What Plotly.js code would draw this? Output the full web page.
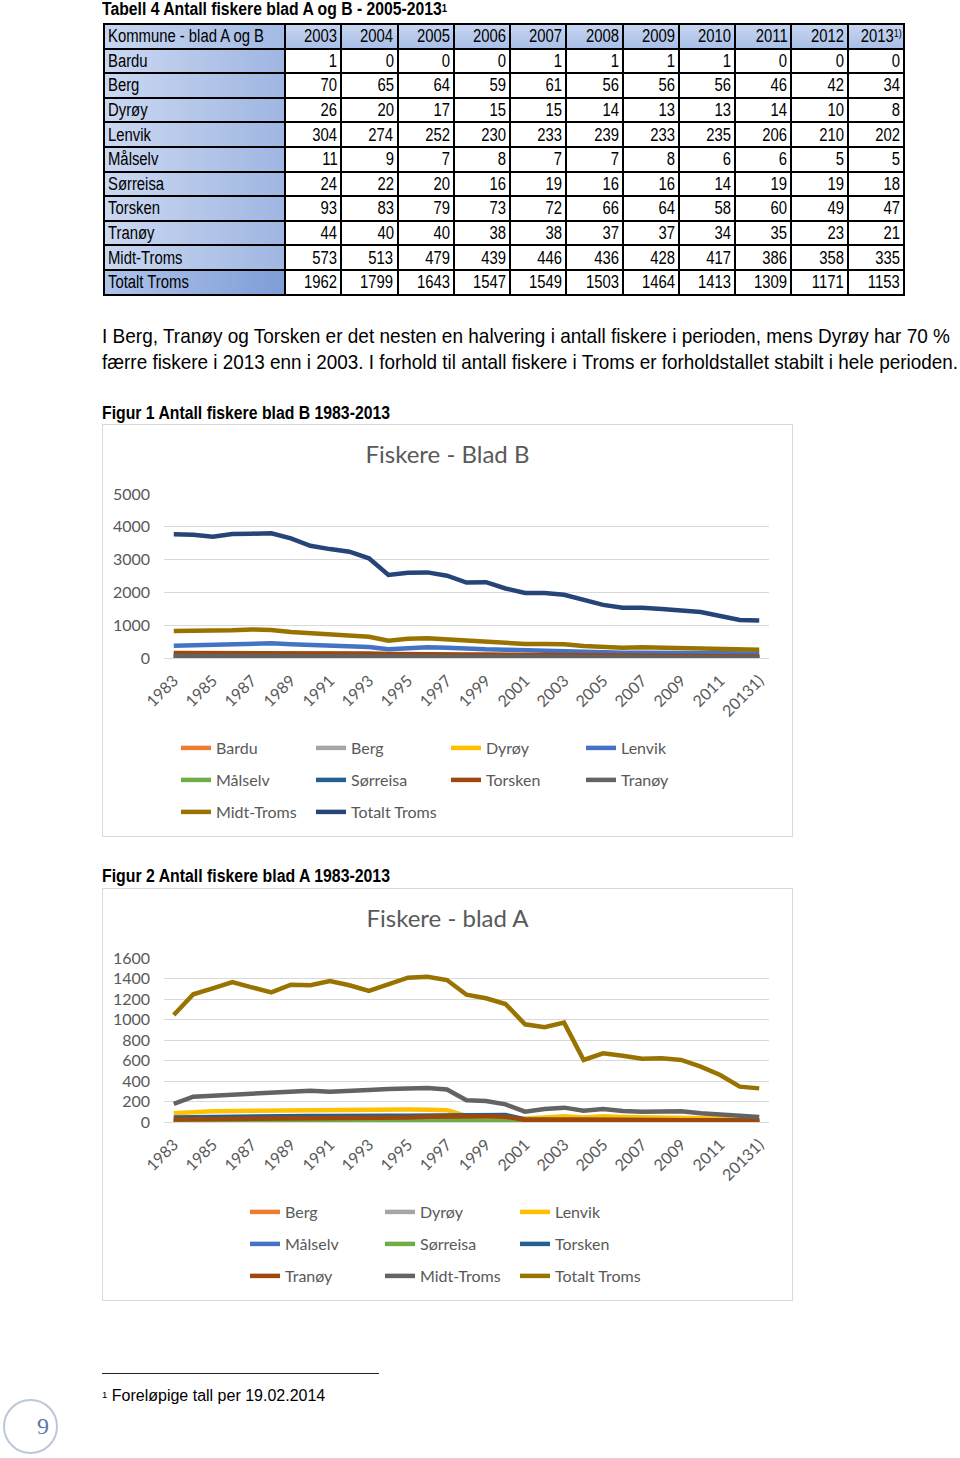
<!DOCTYPE html>
<html><head><meta charset="utf-8">
<script src="https://cdn.plot.ly/plotly-3.0.1.min.js"></script>
<style>
body{margin:0;width:960px;height:1458px;position:relative;background:#fff;overflow:hidden;color:#000;}
.nar{font-family:"Liberation Sans",Arial,sans-serif;}
.abs{position:absolute;white-space:nowrap;}
.sq{display:inline-block;white-space:nowrap;}
#ttitle{left:102px;top:0px;font-size:18px;font-weight:bold;line-height:18px;transform-origin:left center;}
#ttitle sup,#fn sup{font-size:60%;vertical-align:top;position:relative;top:-1px;}
#tbl{position:absolute;left:103px;top:23px;border-collapse:collapse;table-layout:fixed;width:800px;font-size:18px;}
#tbl td{border:2px solid #000;padding:0 3px;height:22.6px;line-height:20px;overflow:hidden;white-space:nowrap;}
#tbl td.num{text-align:right;background:#fff;}
#tbl td.num .sq{transform-origin:right center;}
#tbl td.name{text-align:left;background:linear-gradient(to right,#CBD8F1,#9FB6E2);}
#tbl td.name .sq{transform-origin:left center;}
#tbl td.tot{background:linear-gradient(to right,#AFC3EA,#7F9ED7);}
#tbl tr.hd td{background:linear-gradient(#C7D6F0,#A9BFE7);}
#tbl tr.hd td.name{background:linear-gradient(to right,#C7D6F0,#A3BAE4);}
#tbl sup{font-size:60%;vertical-align:top;position:relative;top:-3px;}
.para{left:102px;font-size:21px;line-height:26px;transform-origin:left center;}
.cap{left:102px;font-size:18px;font-weight:bold;line-height:22px;transform-origin:left center;}
.chart{position:absolute;width:691px;height:413px;}
.frame{position:absolute;width:691px;height:413px;box-sizing:border-box;border:1px solid #D9D9D9;pointer-events:none;}
#fnline{position:absolute;left:102px;top:1373px;width:277px;height:1px;background:#222;}
#fn{left:102px;top:1388px;font-family:"Liberation Sans",Arial,sans-serif;font-size:16px;line-height:16px;}
#pg{position:absolute;left:3px;top:1399px;width:55px;height:55px;box-sizing:border-box;border:2px solid #BAC8DA;border-radius:50%;}
#pgn{left:37px;top:1412px;font-family:"Liberation Serif","DejaVu Serif",serif;font-size:24px;color:#587AAE;line-height:28px;}
</style></head>
<body>
<div id="ttitle" class="abs nar">Tabell 4 Antall fiskere blad A og B - 2005-2013<sup>1</sup></div>
<table id="tbl" class="nar"></table>

<div id="p1" class="abs nar para" style="top:323px">I Berg, Tranøy og Torsken er det nesten en halvering i antall fiskere i perioden, mens Dyrøy har 70 %</div>
<div id="p2" class="abs nar para" style="top:349px">færre fiskere i 2013 enn i 2003. I forhold til antall fiskere i Troms er forholdstallet stabilt i hele perioden.</div>

<div id="cap1" class="abs nar cap" style="top:402px">Figur 1 Antall fiskere blad B 1983-2013</div>
<div id="chartB" class="chart" style="left:102px;top:424px"></div>
<div class="frame" style="left:102px;top:424px"></div>

<div id="cap2" class="abs nar cap" style="top:865px">Figur 2 Antall fiskere blad A 1983-2013</div>
<div id="chartA" class="chart" style="left:102px;top:888px"></div>
<div class="frame" style="left:102px;top:888px"></div>

<div id="fnline"></div>
<div id="fn" class="abs"><sup>1</sup> Foreløpige tall per 19.02.2014</div>
<div id="pg"></div>
<div id="pgn" class="abs">9</div>

<script>
// ---------- Table data ----------
const tableHeadLabel = 'Kommune - blad A og B';
const tableYears = ['2003','2004','2005','2006','2007','2008','2009','2010','2011','2012','2013'];
const tableYearNote = '1)';
const kommuner = ['Bardu','Berg','Dyrøy','Lenvik','Målselv','Sørreisa','Torsken','Tranøy','Midt-Troms','Totalt Troms'];
const tBardu    = [1,0,0,0,1,1,1,1,0,0,0];
const tBerg     = [70,65,64,59,61,56,56,56,46,42,34];
const tDyroy    = [26,20,17,15,15,14,13,13,14,10,8];
const tLenvik   = [304,274,252,230,233,239,233,235,206,210,202];
const tMalselv  = [11,9,7,8,7,7,8,6,6,5,5];
const tSorreisa = [24,22,20,16,19,16,16,14,19,19,18];
const tTorsken  = [93,83,79,73,72,66,64,58,60,49,47];
const tTranoy   = [44,40,40,38,38,37,37,34,35,23,21];
const tMidt     = [573,513,479,439,446,436,428,417,386,358,335];
const tTotal    = [1962,1799,1643,1547,1549,1503,1464,1413,1309,1171,1153];

// ---------- Chart data ----------
const years = ['1983','1984','1985','1986','1987','1988','1989','1990','1991','1992','1993','1994','1995','1996','1997','1998','1999','2000','2001','2002','2003','2004','2005','2006','2007','2008','2009','2010','2011','2012','20131)'];

// Blad B
const bBardu    = [2,2,2,2,2,2,2,1,1,1,1,1,1,1,1,1,1,1,1,1,1,1,0,0,0,1,1,1,0,0,0];
const bBerg     = [110,108,106,105,104,103,100,96,92,90,88,80,82,82,80,76,74,72,70,68,66,60,56,52,50,48,46,44,40,36,32];
const bDyroy    = [40,40,39,39,38,38,36,34,33,32,30,27,28,28,27,25,24,23,22,21,20,18,16,15,15,14,13,13,12,10,9];
const bLenvik   = [376,396,417,427,447,447,417,396,366,356,335,264,295,325,315,280,264,254,234,224,213,193,172,162,160,158,155,150,148,142,140];
const bMalselv  = [15,15,15,15,14,14,14,13,13,12,12,11,11,11,10,10,10,9,9,8,8,7,6,6,6,6,6,5,5,4,4];
const bSorreisa = [35,35,34,34,34,33,32,31,30,29,28,25,26,26,25,24,23,22,21,20,20,18,17,16,16,15,15,14,15,15,14];
const bTorsken  = [150,150,155,160,165,165,160,150,145,140,135,120,125,125,120,110,105,100,95,92,88,80,72,68,66,64,62,58,56,50,48];
const bTranoy   = [60,60,60,62,62,60,58,55,52,50,48,42,44,44,42,40,38,36,34,33,32,30,28,27,26,25,24,23,22,20,19];
const bMidt     = [823,830,817,844,870,854,793,752,701,691,650,528,589,600,569,510,508,467,427,427,417,366,325,315,325,315,305,295,285,264,254];
const bTotal    = [3771,3760,3700,3780,3790,3800,3650,3420,3320,3240,3040,2530,2600,2610,2510,2300,2310,2120,1980,1980,1930,1770,1620,1535,1535,1495,1450,1400,1280,1160,1140];

// Blad A
const aBerg     = [15,16,16,16,16,16,16,16,16,16,16,16,16,16,16,14,14,14,10,10,10,10,9,9,9,9,9,8,8,7,6];
const aDyroy    = [10,12,12,12,12,12,12,12,12,12,12,12,12,12,12,10,10,10,8,8,8,7,7,6,6,6,6,5,5,4,4];
const aLenvik   = [85,100,105,108,110,110,112,120,122,118,120,122,122,120,115,60,40,38,35,45,55,45,55,50,48,48,48,45,35,20,12];
const aMalselv  = [3,3,3,3,3,3,3,3,3,3,3,3,3,3,3,3,3,2,2,2,2,2,2,2,2,2,2,2,2,1,1];
const aSorreisa = [5,5,6,6,6,7,7,8,8,8,9,10,12,15,18,15,12,10,3,3,3,2,2,2,2,2,2,2,1,1,1];
const aTorsken  = [45,48,50,52,52,52,55,58,58,56,58,60,62,65,68,70,68,68,25,25,24,22,22,20,20,19,19,18,18,15,14];
const aTranoy   = [25,26,28,30,30,30,32,32,32,33,34,40,45,52,55,55,55,52,20,22,22,20,20,20,19,18,18,17,16,15,14];
const aMidt     = [176,247,257,267,267,280,293,306,296,300,312,322,328,332,318,212,205,172,101,127,140,111,127,107,101,101,104,85,72,52,49];
const aTotal    = [1044,1246,1304,1366,1314,1265,1340,1334,1376,1334,1278,1343,1408,1418,1385,1242,1207,1151,953,924,969,605,670,647,618,621,605,540,459,345,328];

const namesB  = ['Bardu','Berg','Dyrøy','Lenvik','Målselv','Sørreisa','Torsken','Tranøy','Midt-Troms','Totalt Troms'];
const seriesB = [bBardu,bBerg,bDyroy,bLenvik,bMalselv,bSorreisa,bTorsken,bTranoy,bMidt,bTotal];
const colorsB = ['#ED7D31','#A5A5A5','#FFC000','#4472C4','#70AD47','#255E91','#9E480E','#636363','#997300','#264478'];

const namesA  = ['Berg','Dyrøy','Lenvik','Målselv','Sørreisa','Torsken','Tranøy','Midt-Troms','Totalt Troms'];
const seriesA = [aBerg,aDyroy,aLenvik,aMalselv,aSorreisa,aTorsken,aTranoy,aMidt,aTotal];
const colorsA = ['#ED7D31','#A5A5A5','#FFC000','#4472C4','#70AD47','#255E91','#9E480E','#636363','#997300'];

// ---------- Build table ----------
(function(){
  const rows = [tBardu,tBerg,tDyroy,tLenvik,tMalselv,tSorreisa,tTorsken,tTranoy,tMidt,tTotal];
  const tbl = document.getElementById('tbl');
  const sq = s => '<span class="sq">'+s+'</span>';
  let html = '<colgroup><col style="width:181px">' + tableYears.map(()=> '<col style="width:56.27px">').join('') + '</colgroup>';
  html += '<tr class="hd"><td class="name">'+sq(tableHeadLabel)+'</td>' +
    tableYears.map((y,i)=> '<td class="num">'+sq(y+(i===tableYears.length-1?'<sup>'+tableYearNote+'</sup>':''))+'</td>').join('') + '</tr>';
  kommuner.forEach((k,r)=>{
    html += '<tr><td class="name'+(r===kommuner.length-1?' tot':'')+'">'+sq(k)+'</td>' +
      rows[r].map(v=> '<td class="num">'+sq(v)+'</td>').join('') + '</tr>';
  });
  tbl.innerHTML = html;
  // horizontal condensing to mimic a narrow typeface
  const first = tbl.querySelector('td.name .sq');
  const k = 156 / first.getBoundingClientRect().width;
  tbl.querySelectorAll('.sq').forEach(s => s.style.transform = 'scaleX('+k+')');
})();

// scale a single-line text horizontally to a measured target width
function fit(id, target){
  const el = document.getElementById(id);
  const w = el.getBoundingClientRect().width;
  el.style.transform = 'scaleX(' + (target / w) + ')';
}
fit('p1', 848); fit('p2', 856);
fit('cap1', 288); fit('cap2', 288);
fit('ttitle', 345);

// ---------- Charts ----------
const tickYears = years.filter((y,i)=> i%2===0);
const FONT = 'Lato, "Open Sans", "Noto Sans", sans-serif';
const H = 413, W = 691;

function makeTraces(names, series, colors, perRow){
  return names.map((n,i)=>{
    const row = Math.floor(i/perRow);
    return {
      type:'scatter', mode:'lines', name:n, x:years, y:series[i],
      line:{color:colors[i], width:4.5},
      legend: row===0 ? 'legend' : ('legend'+(row+1)),
      hoverinfo:'skip'
    };
  });
}
function legendCfg(xpx, ypx){
  return {orientation:'h', xref:'container', yref:'container', x:xpx/W, y:1-ypx/H,
    xanchor:'left', yanchor:'middle', entrywidth:90, entrywidthmode:'pixels',
    font:{family:FONT,size:16,color:'#595959'}, bgcolor:'rgba(0,0,0,0)', traceorder:'normal'};
}
function makeLayout(title, yMax, dtick, legX){
  return {
    width:W, height:H, margin:{l:62,r:24,t:70,b:179},
    paper_bgcolor:'#fff', plot_bgcolor:'#fff',
    font:{family:FONT, color:'#595959', size:16},
    title:{text:title, font:{family:FONT,size:24,color:'#595959'}, x:0.5, xanchor:'center',
      xref:'container', yref:'container', y:1-31/H, yanchor:'middle'},
    xaxis:{type:'category', range:[-0.5, years.length-0.5], tickmode:'array', tickvals:tickYears, ticktext:tickYears,
      tickangle:-45, showgrid:false, zeroline:false, showline:true, linecolor:'#D9D9D9', linewidth:1, ticks:'',
      ticklabelstandoff:6, tickfont:{family:FONT,size:16,color:'#595959'}},
    yaxis:{range:[0,yMax], tick0:0, dtick:dtick, showgrid:true, gridcolor:'#D9D9D9', gridwidth:1, zeroline:false,
      showline:false, ticks:'', ticklabelstandoff:13, tickfont:{family:FONT,size:16,color:'#595959'}},
    showlegend:true,
    legend:legendCfg(legX-5,324), legend2:legendCfg(legX-5,356), legend3:legendCfg(legX-5,388)
  };
}
const cfg = {staticPlot:true, displayModeBar:false};
Plotly.newPlot('chartB', makeTraces(namesB, seriesB, colorsB, 4), makeLayout('Fiskere - Blad B', 5000, 1000, 79), cfg);
Plotly.newPlot('chartA', makeTraces(namesA, seriesA, colorsA, 3), makeLayout('Fiskere - blad A', 1600, 200, 148), cfg);
</script>
</body></html>
